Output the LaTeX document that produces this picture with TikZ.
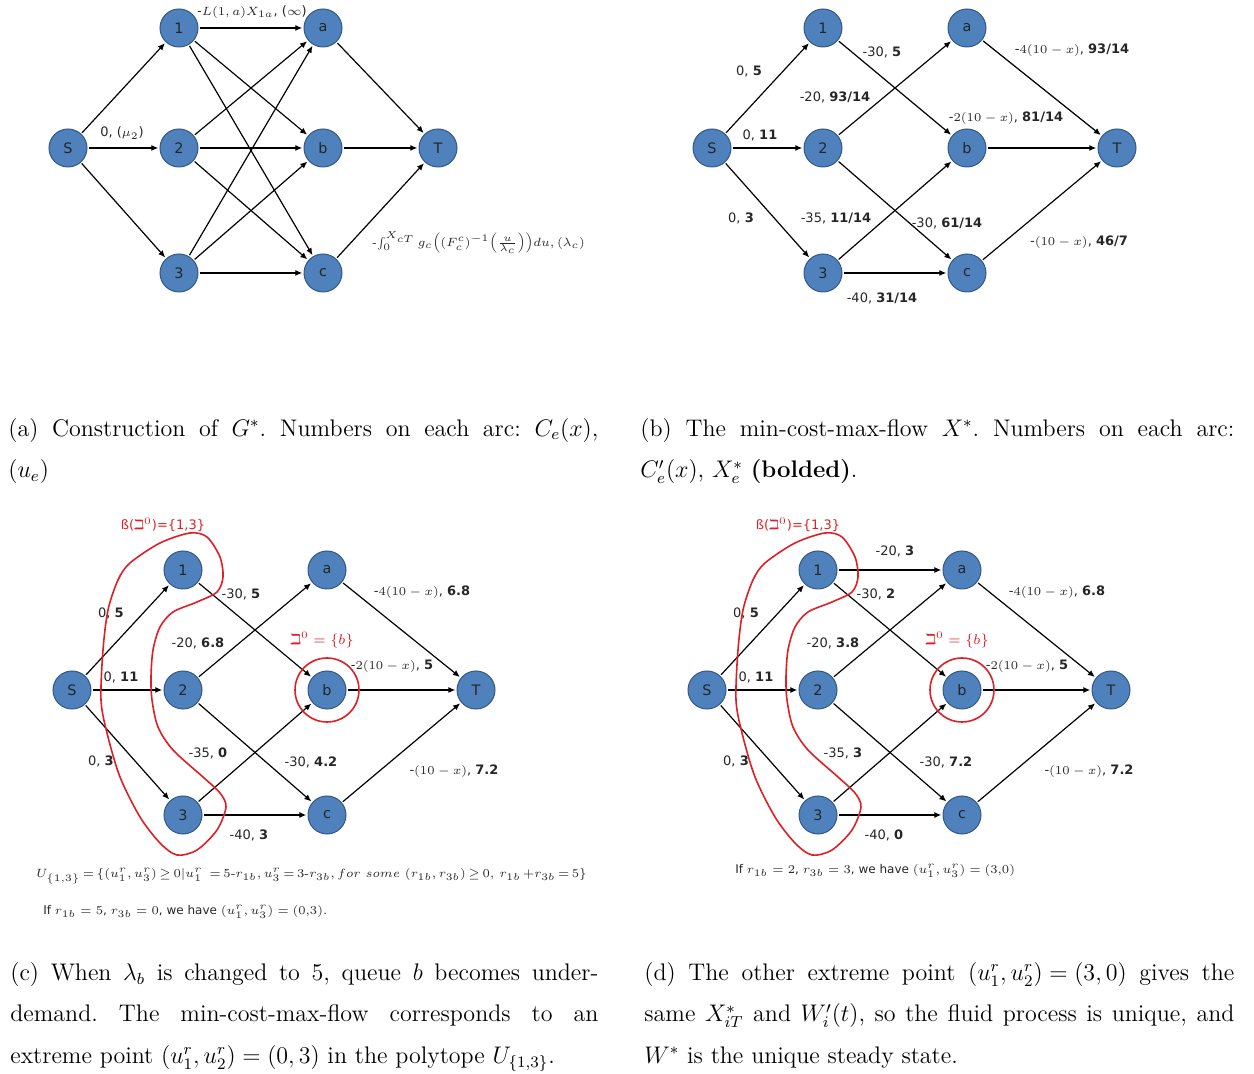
\documentclass[tikz,border=0pt]{standalone}
\usepackage{amsmath,amssymb}
\usepackage{fontspec}
\newfontfamily\lblfont{DejaVu Sans}
\usetikzlibrary{arrows.meta}
\definecolor{qblue}{RGB}{79,129,189}
\definecolor{qborder}{RGB}{52,88,132}
\definecolor{qred}{RGB}{222,32,38}
\tikzset{
  qnode/.style={circle, draw=qborder, fill=qblue, line width=.5pt, minimum size=19pt, inner sep=0pt,
    font=\lblfont\fontsize{7.2}{8}\selectfont, text=black!85},
  arc/.style={-{Latex[length=3.5pt,width=3pt]}, line width=.6pt, shorten >=.6pt, shorten <=.6pt},
  lbl/.style={font=\lblfont\fontsize{6.5}{7.5}\selectfont, inner sep=0pt, text=black!85},
  redlbl/.style={lbl, text=qred},
  ring/.style={draw=qred, line width=.8pt},
  caption/.style={font=\fontsize{12}{20.75}\selectfont\frenchspacing, align=left, inner sep=0pt, anchor=north west},
}
\newcommand{\wt}[2]{#1, \textbf{#2}}
\newcommand{\tightmath}{\thickmuskip=3mu\relax\medmuskip=2mu\relax}
\newcommand{\rigideq}{\thickmuskip=5mu\relax}
\begin{document}
\begin{tikzpicture}[x=0.5pt, y=-0.5pt]
\useasboundingbox (0,0) rectangle (1254,1074);

% the four networks
\foreach \p/\sx/\sy/\tx in {a/68/148/370, b/712/148/405, c/72/690/404, d/707/690/404}{
  \node[qnode] (\p-S) at (\sx,\sy) {S};
  \node[qnode] (\p-1) at (\sx+111,\sy-120) {1};
  \node[qnode] (\p-2) at (\sx+111,\sy) {2};
  \node[qnode] (\p-3) at (\sx+111,\sy+125) {3};
  \node[qnode] (\p-a) at (\sx+255,\sy-120) {a};
  \node[qnode] (\p-b) at (\sx+255,\sy) {b};
  \node[qnode] (\p-c) at (\sx+255,\sy+125) {c};
  \node[qnode] (\p-T) at (\sx+\tx,\sy) {T};
}
\foreach \p in {a,b,c,d}
  \foreach \u/\v in {S/1,S/2,S/3,1/b,2/a,2/c,3/b,3/c,a/T,b/T,c/T}
    \draw[arc] (\p-\u) -- (\p-\v);
\foreach \u/\v in {1/a,1/c,2/b,3/a}
  \draw[arc] (a-\u) -- (a-\v);
\draw[arc] (d-1) -- (d-a);

% (a) construction
\node[lbl] (a-l1a) at (252,12) {-$L(1,a)X_{1a}$, ($\infty$)};
\node[lbl] (a-lS2) at (122,133) {0, ($\mu_2$)};
\node[lbl, anchor=west, font=\fontsize{5.6}{7}\selectfont] (a-lcT) at (372,243) {-$\int_0^{X_{cT}} g_c\Bigl((F_c^c)^{-1}\Bigl(\tfrac{u}{\lambda_c}\Bigr)\Bigr)du, (\lambda_c)$};

% (b) min-cost-max-flow
\node[lbl] (b-lS1) at (749,71) {\wt{0}{5}};
\node[lbl] (b-lS2) at (760,135) {\wt{0}{11}};
\node[lbl] (b-lS3) at (741,218) {\wt{0}{3}};
\node[lbl] (b-l1b) at (882,52) {\wt{-30}{5}};
\node[lbl] (b-l2a) at (835,97) {\wt{-20}{93/14}};
\node[lbl] (b-laT) at (1072,50) {\wt{-$4(10-x)$}{93/14}};
\node[lbl] (b-lbT) at (1006,118) {\wt{-$2(10-x)$}{81/14}};
\node[lbl] (b-l3b) at (836,218) {\wt{-35}{11/14}};
\node[lbl] (b-l2c) at (947,223) {\wt{-30}{61/14}};
\node[lbl] (b-lcT) at (1079,242) {\wt{-$(10-x)$}{46/7}};
\node[lbl] (b-l3c) at (882,298) {\wt{-40}{31/14}};

% (c) lambda_b changed to 5
\draw[ring] plot[smooth cycle] coordinates {(190,533) (207,537) (220,557) (223,577) (217,592) (197,602)
  (173,612) (160,627) (153,650) (151,677) (152,700) (158,727) (173,750) (203,777) (220,793) (226,807)
  (217,830) (197,850) (177,855) (160,843) (140,817) (120,777) (107,733) (101,700) (103,650) (108,610)
  (118,580) (130,563) (160,543)};
\draw[ring] (c-b) circle[radius=16pt];
\node[redlbl] (c-lset) at (163,525) {ß($\beth^0$)=\{1,3\}};
\node[redlbl, font=\fontsize{7}{8}\selectfont] (c-lbeth) at (322,640) {$\beth^0=\{b\}$};
\node[lbl] (c-lS1) at (111,613) {\wt{0}{5}};
\node[lbl] (c-lS2) at (121,677) {\wt{0}{11}};
\node[lbl] (c-lS3) at (101,761) {\wt{0}{3}};
\node[lbl] (c-l1b) at (241,594) {\wt{-30}{5}};
\node[lbl] (c-l2a) at (198,643) {\wt{-20}{6.8}};
\node[lbl] (c-laT) at (422,592) {\wt{-$4(10-x)$}{6.8}};
\node[lbl] (c-lbT) at (392,666) {\wt{-$2(10-x)$}{5}};
\node[lbl] (c-l3b) at (208,753) {\wt{-35}{0}};
\node[lbl] (c-l2c) at (311,762) {\wt{-30}{4.2}};
\node[lbl] (c-lcT) at (454,771) {\wt{-$(10-x)$}{7.2}};
\node[lbl] (c-l3c) at (249,835) {\wt{-40}{3}};
\node[lbl, anchor=west, font=\fontsize{5.8}{7}\selectfont] (c-poly) at (36,876)
  {\tightmath$U_{\{1,3\}}=\{(u_1^r,u_3^r)\geq 0|u_1^r\ = 5\text{-}r_{1b},u_3^r=3\text{-}r_{3b},for\ some\ (r_{1b},r_{3b})\geq 0,\,r_{1b}\,{+}r_{3b}=5\}$};
\node[lbl, anchor=west, font=\lblfont\fontsize{6}{7}\selectfont] (c-ext) at (43,912) {If $r_{1b}=5$, $r_{3b}=0$, we have $(u_1^r,u_3^r)=$ {\rmfamily(0,3).}};

% (d) other extreme point
\begin{scope}[shift={(635,0)}]
\draw[ring] plot[smooth cycle] coordinates {(190,533) (207,537) (220,557) (223,577) (217,592) (197,602)
  (173,612) (160,627) (153,650) (151,677) (152,700) (158,727) (173,750) (203,777) (220,793) (226,807)
  (217,830) (197,850) (177,855) (160,843) (140,817) (120,777) (107,733) (101,700) (103,650) (108,610)
  (118,580) (130,563) (160,543)};
\end{scope}
\draw[ring] (d-b) circle[radius=16pt];
\node[redlbl] (d-lset) at (798,525) {ß($\beth^0$)=\{1,3\}};
\node[redlbl, font=\fontsize{7}{8}\selectfont] (d-lbeth) at (957,640) {$\beth^0=\{b\}$};
\node[lbl] (d-l1a) at (895,551) {\wt{-20}{3}};
\node[lbl] (d-lS1) at (746,613) {\wt{0}{5}};
\node[lbl] (d-lS2) at (756,677) {\wt{0}{11}};
\node[lbl] (d-lS3) at (736,761) {\wt{0}{3}};
\node[lbl] (d-l1b) at (876,594) {\wt{-30}{2}};
\node[lbl] (d-l2a) at (833,643) {\wt{-20}{3.8}};
\node[lbl] (d-laT) at (1057,592) {\wt{-$4(10-x)$}{6.8}};
\node[lbl] (d-lbT) at (1027,666) {\wt{-$2(10-x)$}{5}};
\node[lbl] (d-l3b) at (843,753) {\wt{-35}{3}};
\node[lbl] (d-l2c) at (946,762) {\wt{-30}{7.2}};
\node[lbl] (d-lcT) at (1089,771) {\wt{-$(10-x)$}{7.2}};
\node[lbl] (d-l3c) at (884,835) {\wt{-40}{0}};
\node[lbl, anchor=west, font=\lblfont\fontsize{6}{7}\selectfont] (d-ext) at (735,871) {If $r_{1b}=2$, $r_{3b}=3$, we have $(u_1^r,u_3^r)=$ {\rmfamily(3,0)}};

% sub-captions
\node[caption] (cap-a) at (8,418) {\makebox[295pt][s]{(a) Construction of $G^*$. Numbers on each arc: $C_e(x)$,}\\ $(u_e)$};
\node[caption] (cap-b) at (640,418) {\makebox[297pt][s]{(b) The min-cost-max-flow $X^*$. Numbers on each arc:}\\ $C'_e(x)$, $X^*_e$ \textbf{(bolded)}.};
\node[caption] (cap-c) at (10,962) {\rigideq\makebox[294pt][s]{(c) When $\lambda_b$ is changed to 5, queue $b$ becomes under-}\\
  \makebox[294pt][s]{demand. The min-cost-max-flow corresponds to an}\\
  extreme point $(u_1^r,u_2^r)=(0,3)$ in the polytope $U_{\{1,3\}}$.};
\node[caption] (cap-d) at (644,962) {\rigideq\makebox[295pt][s]{(d) The other extreme point $(u_1^r,u_2^r)=(3,0)$ gives the}\\
  \makebox[295pt][s]{same $X^*_{iT}$ and $W'_i(t)$, so the fluid process is unique, and}\\
  $W^*$ is the unique steady state.};
\end{tikzpicture}
\end{document}
